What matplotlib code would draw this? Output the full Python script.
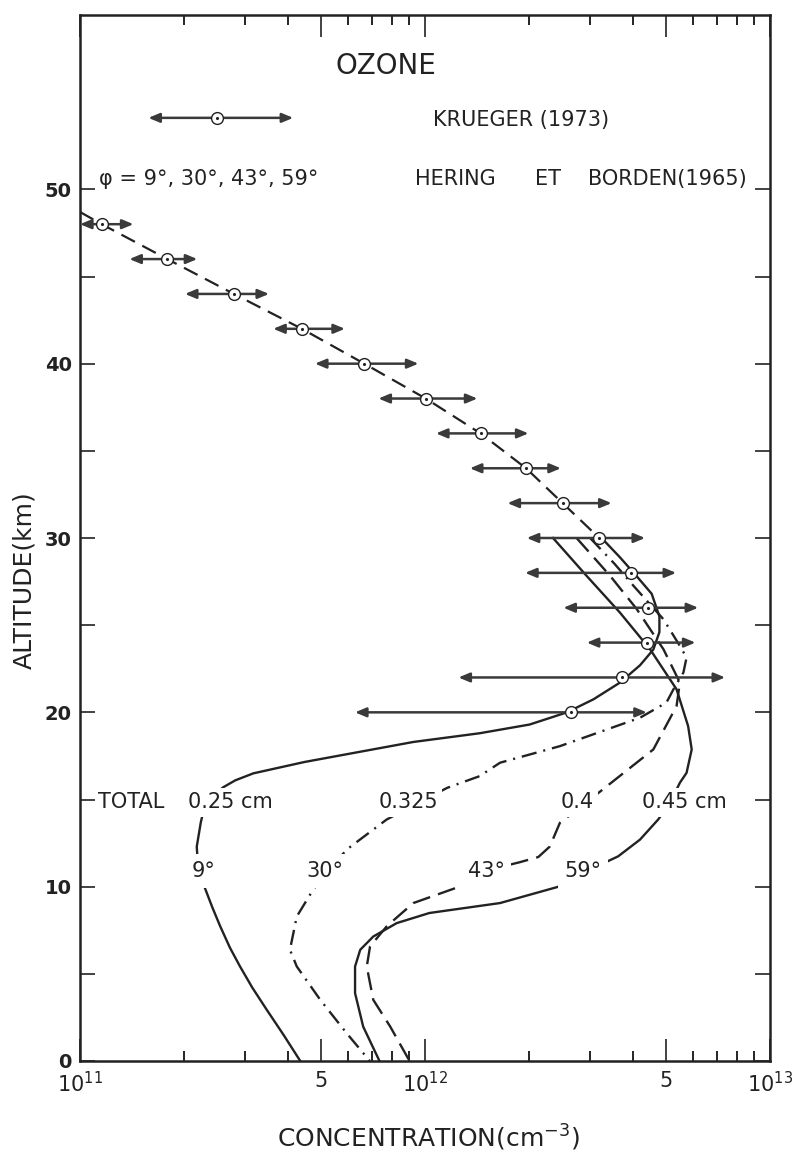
import numpy as np
import matplotlib
matplotlib.use("Agg")
import matplotlib.pyplot as plt
from matplotlib.ticker import FixedLocator, FixedFormatter, NullFormatter

plt.rcParams['font.family'] = ['DejaVu Sans']
plt.rcParams['lines.scale_dashes'] = False

E11 = 1e11
ink = '#222222'
bar_col = '#3a3a3a'

# Krueger (1973): altitude (km), concentration and error-bar ends (units of 1e11 cm-3)
kr_alt = [48, 46, 44, 42, 40, 38, 36, 34, 32, 30, 28, 26, 24, 22, 20]
kr_conc = [1.156, 1.791, 2.793, 4.395, 6.668, 10.05, 14.49, 19.63, 25.06, 31.99,
           39.54, 44.16, 43.95, 37.24, 26.42]
kr_lo = [1.0, 1.390, 2.014, 3.631, 4.797, 7.328, 10.76, 13.49, 17.34, 19.72,
         19.50, 25.18, 29.44, 12.50, 6.266]
kr_hi = [1.429, 2.188, 3.532, 5.861, 9.572, 14.19, 19.95, 24.77, 34.75, 43.45,
         53.46, 61.94, 60.81, 74.13, 43.95]

# dashed line joining the Krueger points
krline_alt = [48.7, 48, 46, 44, 42, 40, 38, 36, 34, 32, 30]
krline_conc = [1.0, 1.156, 1.791, 2.793, 4.395, 6.668, 10.05, 14.49, 19.63, 25.06, 31.99]

# legend sample
leg_alt = 54.1
leg_conc, leg_lo, leg_hi = 2.50, 1.578, 4.15

# Hering et Borden (1965) profiles
alt_9 = [30.0, 28.9, 27.8, 26.8, 25.5, 24.6, 23.6, 22.7, 21.7, 20.75, 20.0, 19.3,
         18.8, 18.3, 17.15, 16.5, 16.1, 15.7, 15.2, 14.5, 13.7, 12.3, 11.0, 9.94,
         8.8, 7.72, 6.5, 5.42, 4.2, 2.93, 1.5, 0.0]
conc_9 = [32.5, 36.7, 41.1, 45.4, 47.8, 47.8, 45.9, 42.0, 36.7, 30.8, 25.8, 20.1,
          14.4, 9.25, 4.47, 3.18, 2.82, 2.60, 2.43, 2.29, 2.24, 2.18, 2.20, 2.30,
          2.42, 2.55, 2.72, 2.91, 3.16, 3.48, 3.89, 4.35]

alt_30 = [30.0, 28.5, 27.26, 25.34, 23.81, 23.14, 22.28, 21.32, 20.56, 19.69, 18.06,
          17.11, 16.34, 15.67, 14.8, 13.85, 12.13, 10.9, 9.83, 8.29, 6.38, 5.42,
          3.51, 1.59, 0.0]
conc_30 = [30.1, 35.5, 40.2, 49.1, 54.8, 57.3, 56.1, 52.5, 50.1, 42.0, 24.6,
           16.5, 14.4, 11.6, 9.55, 7.74, 5.93, 5.25, 4.74, 4.25, 4.06, 4.25,
           4.97, 5.93, 6.92]

alt_43 = [30.0, 27.83, 25.92, 23.62, 21.71, 20.36, 17.87, 15.77, 14.7, 13.66, 12.3,
          11.7, 11.4, 10.92, 9.93, 9.06, 8.4, 7.72, 6.57, 5.42, 3.51, 1.97, 0.0]
conc_43 = [27.5, 34.4, 41.1, 49.1, 54.8, 53.6, 45.9, 33.7, 28.8, 24.6, 23.0,
           21.3, 18.8, 15.0, 12.3, 9.25, 8.47, 7.74, 6.93, 6.78, 7.08, 7.93, 9.02]

alt_59 = [30.0, 27.83, 25.73, 23.62, 21.32, 19.21, 17.87, 16.53, 15.96, 14.8, 13.85,
          12.70, 11.74, 10.9, 10.02, 9.06, 8.49, 7.91, 7.14, 6.38, 5.42, 3.89, 1.97, 0.0]
conc_59 = [23.5, 29.4, 36.7, 44.9, 53.6, 57.9, 59.3, 57.3, 54.8, 51.3, 47.4,
           42.0, 36.3, 29.5, 24.6, 16.5, 10.3, 8.28, 7.08, 6.49, 6.27, 6.27, 6.62, 7.38]

xtick_vals = [1e11, 5e11, 1e12, 5e12, 1e13]
xtick_labels = ['$10^{11}$', '5', '$10^{12}$', '5', '$10^{13}$']
xminor_vals = [2e11, 3e11, 4e11, 6e11, 7e11, 8e11, 9e11,
               2e12, 3e12, 4e12, 6e12, 7e12, 8e12, 9e12]
ytick_vals = [0, 10, 20, 30, 40, 50]
yminor_vals = [5, 15, 25, 35, 45]

fig = plt.figure(figsize=(7.94, 11.53), dpi=100)
ax = fig.add_axes([80 / 794, 1 - 1061 / 1153, 690 / 794, 1046 / 1153])
ax.set_xscale('log')
ax.set_xlim(1e11, 1e13)
ax.set_ylim(0, 60)

arrow_style = dict(arrowstyle='<|-|>,head_length=0.6,head_width=0.25',
                   color=bar_col, lw=1.8, mutation_scale=11, shrinkA=0, shrinkB=0)

# Krueger line, bars and markers
ax.plot(np.array(krline_conc) * E11, krline_alt, color=ink, lw=1.6, dashes=(11, 6), zorder=2)
for a, lo, hi in zip(kr_alt, kr_lo, kr_hi):
    ax.annotate('', xy=(hi * E11, a), xytext=(lo * E11, a), arrowprops=arrow_style, zorder=3)
ax.plot(np.array(kr_conc) * E11, kr_alt, 'o', ms=8.5, mfc='white', mec=ink, mew=1.0, zorder=5)
ax.plot(np.array(kr_conc) * E11, kr_alt, '.', ms=2.5, color=ink, zorder=6)

# legend sample
ax.annotate('', xy=(leg_hi * E11, leg_alt), xytext=(leg_lo * E11, leg_alt),
            arrowprops=arrow_style, zorder=3)
ax.plot([leg_conc * E11], [leg_alt], 'o', ms=8.5, mfc='white', mec=ink, mew=1.0, zorder=5)
ax.plot([leg_conc * E11], [leg_alt], '.', ms=2.5, color=ink, zorder=6)

# Hering et Borden curves
ax.plot(np.array(conc_9) * E11, alt_9, color=ink, lw=1.7, zorder=2)
ax.plot(np.array(conc_30) * E11, alt_30, color=ink, lw=1.7, dashes=(11, 5, 1.5, 5), zorder=2)
ax.plot(np.array(conc_43) * E11, alt_43, color=ink, lw=1.7, dashes=(13, 6), zorder=2)
ax.plot(np.array(conc_59) * E11, alt_59, color=ink, lw=1.7, zorder=2)

box = dict(facecolor='white', edgecolor='none', pad=3)
fs = 15
ax.text(10 ** 11.052, 14.83, 'TOTAL', fontsize=fs, color=ink, va='center', ha='left', zorder=4)
ax.text(10 ** 11.313, 14.83, '0.25 cm', fontsize=fs, color=ink, va='center', ha='left',
        bbox=box, zorder=4)
ax.text(10 ** 11.952, 14.83, '0.325', fontsize=fs, color=ink, va='center', ha='center',
        bbox=box, zorder=4)
ax.text(10 ** 12.441, 14.83, '0.4', fontsize=fs, color=ink, va='center', ha='center',
        bbox=box, zorder=4)
ax.text(10 ** 12.629, 14.83, '0.45 cm', fontsize=fs, color=ink, va='center', ha='left',
        bbox=box, zorder=4)
deg_box = dict(facecolor='white', edgecolor='none', pad=5)
ax.text(10 ** 11.359, 10.9, '9°', fontsize=fs, color=ink, va='center', ha='center',
        bbox=deg_box, zorder=4)
ax.text(10 ** 11.710, 10.9, '30°', fontsize=fs, color=ink, va='center', ha='center',
        bbox=deg_box, zorder=4)
ax.text(10 ** 12.177, 10.9, '43°', fontsize=fs, color=ink, va='center', ha='center',
        bbox=deg_box, zorder=4)
ax.text(10 ** 12.458, 10.9, '59°', fontsize=fs, color=ink, va='center', ha='center',
        bbox=deg_box, zorder=4)

# header texts
ax.text(10 ** 11.887, 57.1, 'OZONE', fontsize=20, color=ink, va='center', ha='center')
ax.text(10 ** 12.023, 54.0, 'KRUEGER (1973)', fontsize=fs, color=ink, va='center', ha='left')
ax.text(10 ** 11.055, 50.6, 'φ = 9°, 30°, 43°, 59°', fontsize=fs, color=ink, va='center', ha='left')
ax.text(10 ** 11.971, 50.6, 'HERING', fontsize=fs, color=ink, va='center', ha='left')
ax.text(10 ** 12.319, 50.6, 'ET', fontsize=fs, color=ink, va='center', ha='left')
ax.text(10 ** 12.472, 50.6, 'BORDEN(1965)', fontsize=fs, color=ink, va='center', ha='left')

# axes styling
for s in ax.spines.values():
    s.set_linewidth(1.8)
    s.set_color(ink)
ax.xaxis.set_major_locator(FixedLocator(xtick_vals))
ax.xaxis.set_major_formatter(FixedFormatter(xtick_labels))
ax.xaxis.set_minor_locator(FixedLocator(xminor_vals))
ax.xaxis.set_minor_formatter(NullFormatter())
ax.yaxis.set_major_locator(FixedLocator(ytick_vals))
ax.yaxis.set_minor_locator(FixedLocator(yminor_vals))
ax.tick_params(axis='x', which='major', direction='in', top=True, length=16, width=1.2,
               labelsize=15, pad=7, colors=ink)
ax.tick_params(axis='x', which='minor', direction='in', top=True, length=7.5, width=1.2)
ax.tick_params(axis='y', which='both', direction='in', right=True, length=11, width=1.2,
               labelsize=14, pad=6, colors=ink)
for lab in ax.get_yticklabels():
    lab.set_fontweight('bold')

fig.text(24 / 794, 1 - 580 / 1153, 'ALTITUDE(km)', rotation=90, fontsize=18, color=ink,
         va='center', ha='center')
fig.text(428 / 794, 1 - 1138 / 1153, 'CONCENTRATION(cm$^{-3}$)', fontsize=18, color=ink,
         va='center', ha='center')

fig.savefig('out.png', dpi=100, facecolor='white')
